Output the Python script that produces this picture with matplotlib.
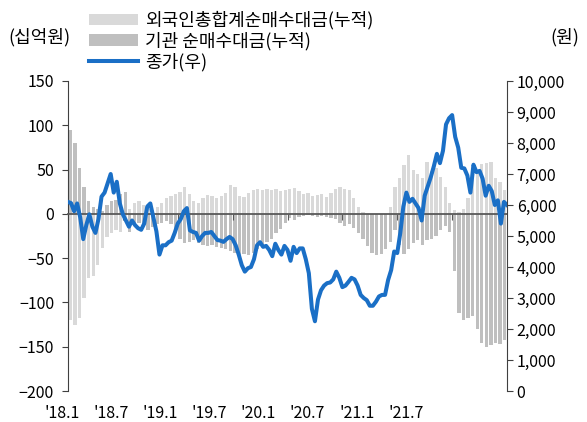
import numpy as np
import matplotlib.pyplot as plt
from matplotlib.ticker import FuncFormatter
from matplotlib.transforms import blended_transform_factory

plt.rcParams['font.family'] = ['Noto Sans CJK KR', 'DejaVu Sans']

# 반월 단위 누적 순매수대금 (십억원), 2018.1 ~ 2021.12
foreign = [-120, -125, -118, -95, -72, -70, -58, -38, -26, -22, -18, -20,
           -8, 5, 12, 14, 10, 6, 4, 8, 12, 18, 20, 22,
           25, 30, 22, 14, 12, 18, 21, 20, 18, 20, 24, 33,
           30, 20, 19, 24, 27, 28, 27, 28, 27, 28, 26, 27,
           28, 29, 26, 22, 24, 20, 21, 22, 19, 24, 28, 30,
           28, 27, 18, 8, 2, -4, -8, -10, -6, -2, 8, 30,
           40, 55, 66, 50, 45, 40, 58, 48, 52, 42, 30, 12,
           4, 2, 6, 18, 45, 50, 56, 57, 58, 40, 36, 27]
inst = [95, 80, 52, 30, 15, 8, 5, 3, 10, 14, 16, 22,
        25, -20, -12, -10, -14, -18, -15, -12, -10, -8, -12, -20,
        -28, -33, -32, -30, -33, -35, -36, -35, -37, -38, -40, -42,
        -44, -46, -45, -46, -44, -40, -37, -32, -28, -22, -17, -10,
        -5, -7, -3, -2, -1, -2, -3, -2, -3, -5, -6, -10,
        -14, -12, -16, -22, -28, -36, -44, -46, -45, -40, -32, -18,
        -35, -45, -40, -33, -30, -35, -30, -28, -25, -18, -14, -20,
        -65, -112, -120, -118, -115, -130, -146, -150, -148, -146, -147, -142]

# 종가 (원), 약 10일 간격
price = [6100, 6060, 5800, 6050, 5600, 4900, 5350, 5700, 5300, 5100,
         5550, 6270, 6400, 6700, 7000, 6400, 6750, 6050, 5700, 5500,
         5300, 5500, 5350, 5250, 5200, 5400, 5950, 6050, 5600, 5150,
         4400, 4700, 4700, 4800, 4850, 5100, 5400, 5550, 5800, 5900,
         5180, 5130, 5100, 4850, 5000, 5100, 5100, 5130, 5000, 4870,
         4850, 4810, 4900, 4970, 4900, 4700, 4400, 4060, 3850, 3960,
         4000, 4250, 4700, 4800, 4650, 4680, 4550, 4350, 4750, 4550,
         4400, 4680, 4550, 4200, 4650, 4450, 4600, 4600, 4250, 3800,
         2650, 2250, 2950, 3250, 3400, 3480, 3500, 3600, 3850, 3650,
         3350, 3400, 3520, 3650, 3600, 3400, 3100, 3000, 2930, 2750,
         2750, 2880, 3050, 3100, 3100, 3580, 3900, 4500, 4450, 5100,
         5950, 6400, 6100, 6200, 6050, 5900, 5500, 6300, 6600, 6900,
         7250, 7650, 7350, 7750, 8600, 8800, 8900, 8200, 7850, 7200,
         7180, 6950, 6400, 7300, 7060, 7100, 6850, 6300, 6620, 6450,
         6000, 6150, 5400, 6100, 6000]

x_labels = ["'18.1", "'18.7", "'19.1", "'19.7", "'20.1", "'20.7", "'21.1", "'21.7"]

fig = plt.figure(figsize=(5.87, 4.22), dpi=100)
ax = fig.add_axes([68 / 587, 31 / 422, 439 / 587, 310 / 422])

bar_t = np.arange(len(foreign)) * 0.5 + 0.25
b1 = ax.bar(bar_t, foreign, width=0.36, color='#d9d9d9', linewidth=0,
            label='외국인총합계순매수대금(누적)')
b2 = ax.bar(bar_t, inst, width=0.36, color='#bfbfbf', linewidth=0,
            label='기관 순매수대금(누적)')
ax.set_xlim(0, 48)
ax.set_ylim(-200, 150)
ax.set_yticks(np.arange(-200, 151, 50))

for s in ['top', 'right']:
    ax.spines[s].set_visible(False)
ax.spines['left'].set_color('#404040')
ax.spines['bottom'].set_position(('data', 0))
ax.spines['bottom'].set_color('#595959')
ax.spines['bottom'].set_linewidth(1.3)
ax.set_xticks(np.arange(0, 48, 6))
ax.tick_params(axis='x', length=4, color='#595959', labelbottom=False)
ax.tick_params(axis='y', length=4, color='#404040', labelsize=11.5, pad=6)

# 월 라벨은 축 하단 아래에 따로 배치
trans = blended_transform_factory(ax.transData, ax.transAxes)
for i, lab in enumerate(x_labels):
    ax.text(i * 5.37 - 0.66, -0.073, lab, transform=trans, fontsize=11.5,
            ha='center', va='center', clip_on=False)

ax2 = ax.twinx()
ln, = ax2.plot(np.arange(len(price)) / 3, price, color='#1a6fc6', lw=2.9,
               label='종가(우)')
ax2.set_ylim(0, 10000)
ax2.set_yticks(np.arange(0, 10001, 1000))
ax2.yaxis.set_major_formatter(FuncFormatter(lambda v, p: f'{v:,.0f}'))
for s in ['top', 'left', 'bottom']:
    ax2.spines[s].set_visible(False)
ax2.spines['right'].set_color('#404040')
ax2.tick_params(axis='y', length=4, color='#404040', labelsize=11.5, pad=3)

fig.legend([b1, b2, ln], [b1.get_label(), b2.get_label(), ln.get_label()],
           loc='upper left', bbox_to_anchor=(80 / 587, 1 - 2 / 422), frameon=False,
           fontsize=13, handlelength=2.7, handleheight=0.6,
           labelspacing=0.12, handletextpad=0.4, borderaxespad=0.1)

fig.text(8 / 587, 1 - 37 / 422, '(십억원)', fontsize=13, va='center')
fig.text(550 / 587, 1 - 37 / 422, '(원)', fontsize=13, va='center')

fig.savefig('out.png', dpi=100)
